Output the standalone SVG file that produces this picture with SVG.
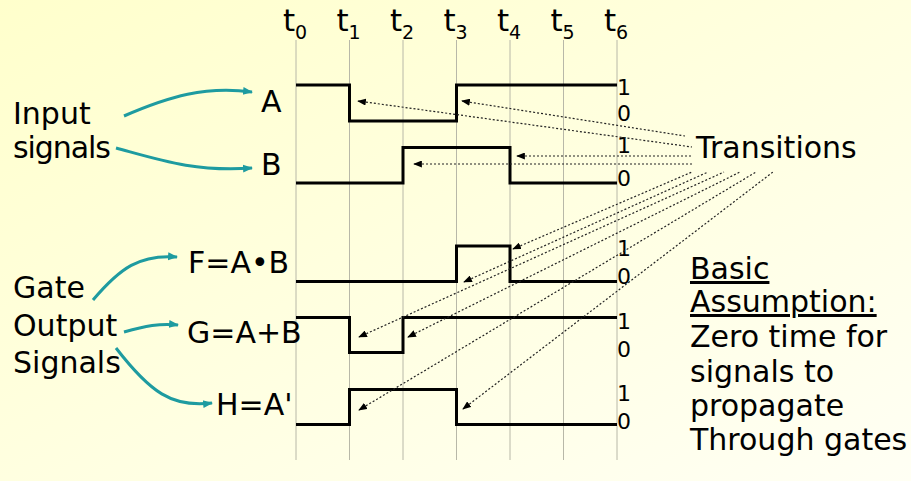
<svg xmlns="http://www.w3.org/2000/svg" width="911" height="481" viewBox="0 0 911 481">
<defs>
<linearGradient id="bg" x1="0" y1="0" x2="1" y2="1">
<stop offset="0" stop-color="#ffffcc"/>
<stop offset="1" stop-color="#fffff4"/>
</linearGradient>
<marker id="teal" viewBox="0 0 10 10" refX="9" refY="5" markerWidth="10" markerHeight="10" markerUnits="userSpaceOnUse" orient="auto">
<path d="M0,1 L10,5 L0,9 Z" fill="#1e9ba0"/>
</marker>
<marker id="dot" viewBox="0 0 10 8" refX="1" refY="4" markerWidth="9" markerHeight="7" markerUnits="userSpaceOnUse" orient="auto">
<path d="M0,4 L10,0 L10,8 Z" fill="#000"/>
</marker>
<style>
text{font-family:"DejaVu Sans","Liberation Sans",sans-serif;fill:#000}
.big{font-size:30px}
.t{font-size:31px}
.sub{font-size:19px}
.lv{font-size:22px}
.grid{stroke:#b8b8a8;stroke-width:1;fill:none}
.wave{stroke:#000;stroke-width:3;fill:none}
.tl{stroke:#1e9ba0;stroke-width:3;fill:none;marker-end:url(#teal)}
.dl{stroke:#222;stroke-width:1.2;stroke-dasharray:2 2;fill:none;marker-start:url(#dot)}
</style>
</defs>
<rect width="911" height="481" fill="url(#bg)"/>

<g id="grid">
<line class="grid" x1="296" y1="40" x2="296" y2="460"/>
<line class="grid" x1="349.5" y1="40" x2="349.5" y2="460"/>
<line class="grid" x1="403" y1="40" x2="403" y2="460"/>
<line class="grid" x1="456.5" y1="40" x2="456.5" y2="460"/>
<line class="grid" x1="510" y1="40" x2="510" y2="460"/>
<line class="grid" x1="563.5" y1="40" x2="563.5" y2="460"/>
<line class="grid" x1="617" y1="40" x2="617" y2="460"/>
</g>

<g id="time-labels">
<text class="t" x="289" y="31" text-anchor="middle">t</text><text class="sub" x="295" y="39">0</text>
<text class="t" x="342.5" y="31" text-anchor="middle">t</text><text class="sub" x="348.5" y="39">1</text>
<text class="t" x="396" y="31" text-anchor="middle">t</text><text class="sub" x="402" y="39">2</text>
<text class="t" x="449.5" y="31" text-anchor="middle">t</text><text class="sub" x="455.5" y="39">3</text>
<text class="t" x="503" y="31" text-anchor="middle">t</text><text class="sub" x="509" y="39">4</text>
<text class="t" x="556.5" y="31" text-anchor="middle">t</text><text class="sub" x="562.5" y="39">5</text>
<text class="t" x="610" y="31" text-anchor="middle">t</text><text class="sub" x="616" y="39">6</text>
</g>

<g id="wave-A">
<polyline class="wave" points="296,85 349.5,85 349.5,121 456.5,121 456.5,85 617,85"/>
<text class="lv" x="617" y="95">1</text><text class="lv" x="617" y="121">0</text>
<text class="big" x="261" y="112">A</text>
</g>
<g id="wave-B">
<polyline class="wave" points="296,183 403,183 403,147.5 510,147.5 510,183 617,183"/>
<text class="lv" x="617" y="153">1</text><text class="lv" x="617" y="186">0</text>
<text class="big" x="261" y="175">B</text>
</g>
<g id="wave-F">
<polyline class="wave" points="296,281.5 456.5,281.5 456.5,246 510,246 510,281.5 617,281.5"/>
<text class="lv" x="617" y="256">1</text><text class="lv" x="617" y="284">0</text>
<text class="big" x="188" y="273">F=A•B</text>
</g>
<g id="wave-G">
<polyline class="wave" points="296,317.5 349.5,317.5 349.5,352.5 403,352.5 403,317.5 617,317.5"/>
<text class="lv" x="617" y="329">1</text><text class="lv" x="617" y="357">0</text>
<text class="big" x="187" y="343">G=A+B</text>
</g>
<g id="wave-H">
<polyline class="wave" points="296,424.5 349.5,424.5 349.5,389.5 456.5,389.5 456.5,424.5 617,424.5"/>
<text class="lv" x="617" y="401">1</text><text class="lv" x="617" y="429">0</text>
<text class="big" x="216" y="415">H=A'</text>
</g>

<g id="input-label">
<text class="big" x="13" y="124">Input</text>
<text class="big" x="13" y="158" textLength="98">signals</text>
</g>
<g id="gate-label">
<text class="big" x="13" y="298">Gate</text>
<text class="big" x="13" y="336">Output</text>
<text class="big" x="13" y="373">Signals</text>
</g>
<g id="transitions-label">
<text class="big" x="696" y="158">Transitions</text>
</g>
<g id="assumption">
<text class="big" x="690" y="279" text-decoration="underline">Basic</text>
<text class="big" x="690" y="312" text-decoration="underline">Assumption:</text>
<text class="big" x="690" y="347">Zero time for</text>
<text class="big" x="690" y="382">signals to</text>
<text class="big" x="690" y="416">propagate</text>
<text class="big" x="690" y="450">Through gates</text>
</g>

<g id="connectors">
<path class="tl" d="M124,116 C170,96 205,86 252,92"/>
<path class="tl" d="M116,148 C160,160 195,172 252,168"/>
<path class="tl" d="M93,300 C120,268 140,254 177,257"/>
<path class="tl" d="M124,332 C145,326 160,323 178,325"/>
<path class="tl" d="M116,348 C150,392 172,408 212,403"/>

<line class="dl" x1="358" y1="101" x2="692" y2="147"/>
<line class="dl" x1="462" y1="101" x2="685" y2="136"/>
<line class="dl" x1="517" y1="156" x2="692" y2="156"/>
<line class="dl" x1="414" y1="164" x2="692" y2="164"/>
<line class="dl" x1="513" y1="249" x2="692" y2="172"/>
<line class="dl" x1="464" y1="282" x2="708" y2="172"/>
<line class="dl" x1="359" y1="337" x2="724" y2="172"/>
<line class="dl" x1="408" y1="337" x2="740" y2="172"/>
<line class="dl" x1="359" y1="410" x2="756" y2="172"/>
<line class="dl" x1="463" y1="409" x2="773" y2="172"/>
</g>
</svg>
